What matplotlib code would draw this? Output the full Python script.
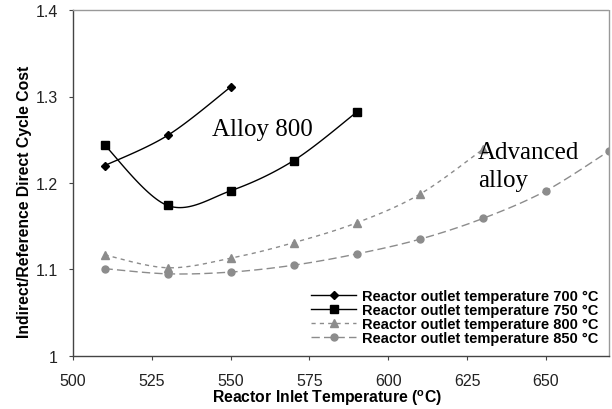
import numpy as np
import matplotlib
matplotlib.use("Agg")
import matplotlib.pyplot as plt

plt.rcParams['font.family'] = ['Liberation Sans', 'DejaVu Sans']
plt.rcParams['mathtext.fontset'] = 'custom'
plt.rcParams['mathtext.bf'] = 'Liberation Sans:bold'
plt.rcParams['mathtext.rm'] = 'Liberation Sans'

# Data
x_700 = [510, 530, 550]
y_700 = [1.220, 1.255, 1.311]
x_750 = [510, 530, 550, 570, 590]
y_750 = [1.244, 1.174, 1.191, 1.226, 1.282]
x_800 = [510, 530, 550, 570, 590, 610, 630]
y_800 = [1.117, 1.102, 1.113, 1.131, 1.154, 1.187, 1.239]
x_850 = [510, 530, 550, 570, 590, 610, 630, 650, 670]
y_850 = [1.101, 1.095, 1.097, 1.105, 1.118, 1.135, 1.159, 1.191, 1.237]

labels = ['Reactor outlet temperature 700 °C',
          'Reactor outlet temperature 750 °C',
          'Reactor outlet temperature 800 °C',
          'Reactor outlet temperature 850 °C']
xticks = [500, 525, 550, 575, 600, 625, 650]
yticks = [1.0, 1.1, 1.2, 1.3, 1.4]
yticklabels = ['1', '1.1', '1.2', '1.3', '1.4']


def smooth(xs, ys, n=30):
    """Uniform Catmull-Rom curve through the data points (Excel-like smoothing)."""
    P = np.column_stack([xs, ys]).astype(float)
    P = np.vstack([P[0], P, P[-1]])
    out = []
    t = np.linspace(0, 1, n)[:, None]
    for i in range(1, len(P) - 2):
        p0, p1, p2, p3 = P[i - 1], P[i], P[i + 1], P[i + 2]
        seg = 0.5 * ((2 * p1) + (-p0 + p2) * t + (2 * p0 - 5 * p1 + 4 * p2 - p3) * t ** 2
                     + (-p0 + 3 * p1 - 3 * p2 + p3) * t ** 3)
        out.append(seg if i == 1 else seg[1:])
    c = np.vstack(out)
    return c[:, 0], c[:, 1]


W, H = 612, 410
fig = plt.figure(figsize=(W / 100, H / 100), dpi=100)
ax = fig.add_axes([73 / W, 1 - 357 / H, (609 - 73) / W, (357 - 11) / H])

gray = '#8c8c8c'
series = [
    (x_700, y_700, 'black', '-', 'D', 4.5, 'black'),
    (x_750, y_750, 'black', '-', 's', 5.5, 'black'),
    (x_800, y_800, gray, (0, (3, 3)), '^', 6, gray),
    (x_850, y_850, gray, (0, (6, 3)), 'o', 5, gray),
]
handles = []
for (xs, ys, col, ls, mk, ms, mc), lab in zip(series, labels):
    sx, sy = smooth(xs, ys)
    ax.plot(sx, sy, color=col, linestyle=ls, linewidth=1.0)
    ax.plot(xs, ys, linestyle='none', marker=mk, markersize=ms, color=mc,
            markeredgecolor=mc)
    h, = ax.plot([], [], color=col, linestyle=ls, linewidth=1.0, marker=mk,
                 markersize=ms, markerfacecolor=mc, markeredgecolor=mc)
    handles.append(h)

ax.set_xlim(500, 670)
ax.set_ylim(1.0, 1.4)
ax.set_xticks(xticks)
ax.set_xticklabels([str(v) for v in xticks])
ax.set_yticks(yticks)
ax.set_yticklabels(yticklabels)
ax.tick_params(axis='both', direction='out', length=3, width=0.8, color='#444444',
               labelsize=11.5, labelcolor='#222222', pad=8)
ax.tick_params(axis='x', pad=9)

for s in ['left', 'bottom']:
    ax.spines[s].set_color('#444444')
    ax.spines[s].set_linewidth(1.0)
for s in ['top', 'right']:
    ax.spines[s].set_color('#999999')
    ax.spines[s].set_linewidth(1.0)
    ax.spines[s].set_linestyle((0, (1, 1)))

fig.text(327 / W, 1 - 398 / H, r'Reactor Inlet Temperature ($^{\mathbf{o}}$C)',
         fontsize=11.3, fontweight='bold', ha='center', va='center')
fig.text(25 / W, 1 - 202 / H, 'Indirect/Reference Direct Cycle Cost',
         fontsize=11.3, fontweight='bold', ha='center', va='center', rotation=90)

serif = 'Liberation Serif'
ax.text(544.2, 1.256, 'Alloy 800', fontsize=18, family=serif, ha='left', va='baseline')
ax.text(628.5, 1.229, 'Advanced', fontsize=18, family=serif, ha='left', va='baseline')
ax.text(628.5, 1.197, 'alloy', fontsize=18, family=serif, ha='left', va='baseline')

leg = ax.legend(handles, labels, loc='lower right', frameon=False,
                prop={'weight': 'bold', 'size': 10.5}, handlelength=3.1,
                handletextpad=0.35, labelspacing=0.0, borderaxespad=0.35)

fig.savefig('out.png', dpi=100)
